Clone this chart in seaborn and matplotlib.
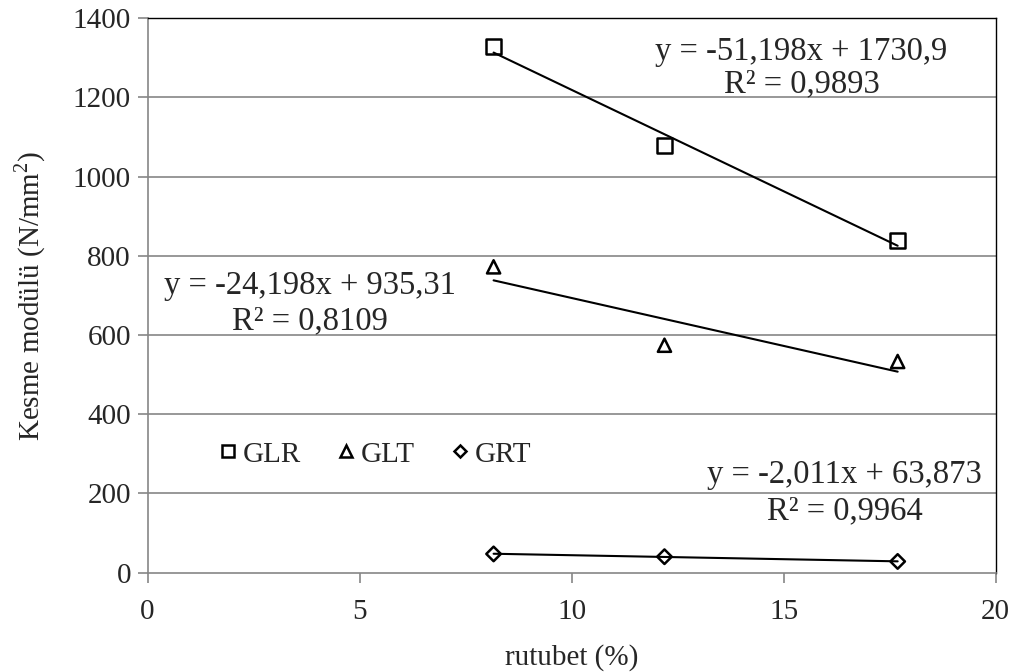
import numpy as np
import pandas as pd
import matplotlib
matplotlib.use("Agg")
import matplotlib.pyplot as plt
from matplotlib.lines import Line2D
import seaborn as sns

# data
rutubet = [8.16, 12.19, 17.69]
glr = [1329, 1078, 838]
glt = [772, 574, 533]
grt = [47, 40, 28]

series = ["GLR", "GLT", "GRT"]
markers = ["s", "^", "D"]
marker_sizes = [110, 90, 55]

# trendline coefficients as given in the chart
slopes = [-51.198, -24.198, -2.011]
intercepts = [1730.9, 935.31, 63.873]
eq_texts = ["y = -51,198x + 1730,9\nR² = 0,9893",
            "y = -24,198x + 935,31\nR² = 0,8109",
            "y = -2,011x + 63,873\nR² = 0,9964"]

sns.set_style("white")
plt.rcParams["font.family"] = ["Liberation Serif", "DejaVu Serif"]
plt.rcParams["mathtext.fontset"] = "custom"
plt.rcParams["mathtext.rm"] = "Liberation Serif"

df = pd.DataFrame({
    "rutubet": rutubet * 3,
    "deger": glr + glt + grt,
    "seri": np.repeat(series, 3),
})

fig, ax = plt.subplots(figsize=(10.18, 6.72), dpi=100)
fig.subplots_adjust(left=0.145, right=0.978, top=0.973, bottom=0.148)

grid_col = "#868686"
for y in range(200, 1400, 200):
    ax.axhline(y, color=grid_col, lw=1.2, zorder=0)

for s, m, ms, k, b in zip(series, markers, marker_sizes, slopes, intercepts):
    sub = df[df["seri"] == s]
    xs = np.array([sub["rutubet"].min(), sub["rutubet"].max()])
    line_df = pd.DataFrame({"x": xs, "y": k * xs + b})
    sns.lineplot(data=line_df, x="x", y="y", color="black", lw=1.5, ax=ax, zorder=2)
    sns.scatterplot(data=sub, x="rutubet", y="deger", marker=m, s=ms,
                    facecolor="none", edgecolor="black", linewidth=1.8, ax=ax, zorder=3)

fs = 21
efs = 23.5
ax.text(0.771, 0.91, eq_texts[0], transform=ax.transAxes, ha="center", va="center",
        fontsize=efs, linespacing=1.05)
ax.text(0.191, 0.486, eq_texts[1], transform=ax.transAxes, ha="center", va="center",
        fontsize=efs, linespacing=1.2)
ax.text(0.822, 0.144, eq_texts[2], transform=ax.transAxes, ha="center", va="center",
        fontsize=efs, linespacing=1.27)

ax.set_xlim(0, 20)
ax.set_ylim(0, 1400)
ax.set_xticks([0, 5, 10, 15, 20])
ax.set_yticks(range(0, 1401, 200))
ax.tick_params(axis="both", direction="out", length=7, width=1.2, color=grid_col,
               labelsize=fs, bottom=True, left=True, pad=5)
ax.tick_params(axis="x", pad=12)
for side in ["top", "right"]:
    ax.spines[side].set_color("black")
    ax.spines[side].set_linewidth(1.0)
for side in ["left", "bottom"]:
    ax.spines[side].set_color(grid_col)
    ax.spines[side].set_linewidth(1.2)

ax.set_xlabel("rutubet (%)", fontsize=fs, labelpad=14)
ax.set_ylabel("Kesme modülü (N/mm$^2$)", fontsize=fs, labelpad=18)

handles = [Line2D([], [], marker=m, ls="none", mfc="none", mec="black", mew=1.8,
                  markersize=sz) for m, sz in zip(markers, [9, 8, 6.5])]
ax.legend(handles, series, loc="center left", bbox_to_anchor=(0.054, 0.213),
          ncol=3, frameon=False, fontsize=fs, handletextpad=0.0,
          columnspacing=1.05, handlelength=1.0, borderpad=0.2)

fig.savefig("out.png", dpi=100)
